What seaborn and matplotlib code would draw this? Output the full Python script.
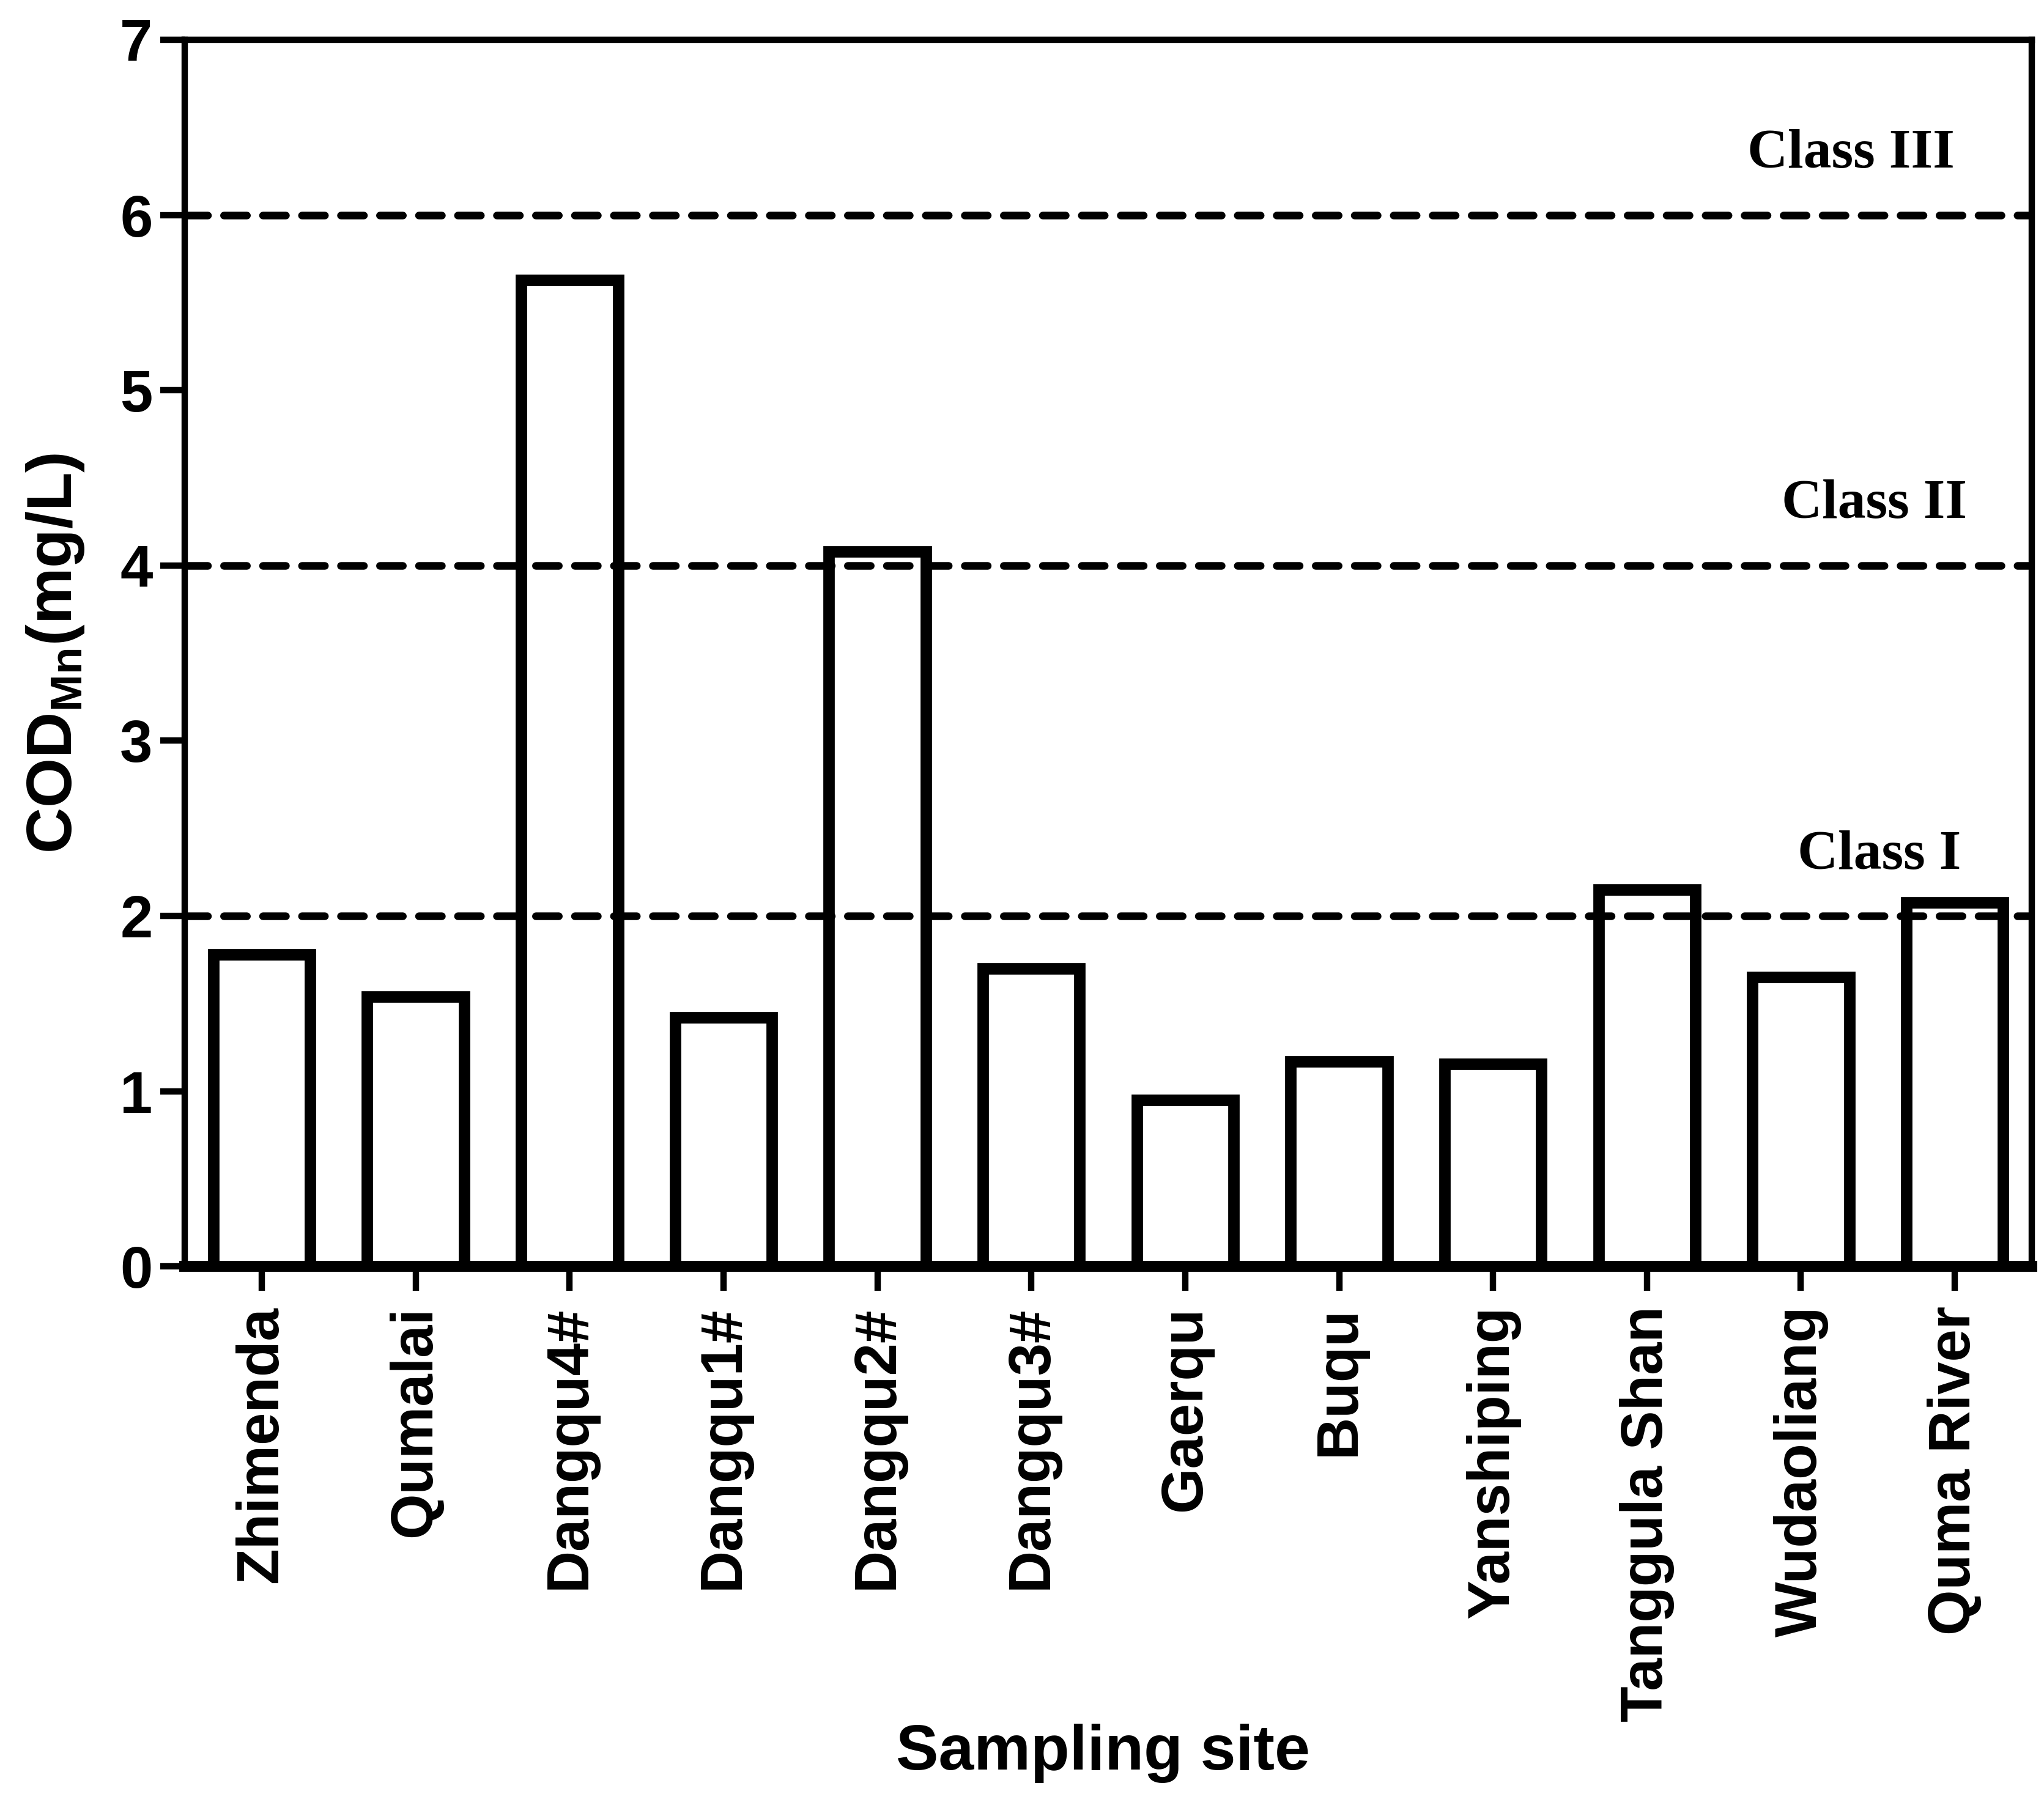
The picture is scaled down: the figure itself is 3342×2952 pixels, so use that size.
import matplotlib
matplotlib.use("Agg")
import matplotlib.pyplot as plt
import seaborn as sns

# data
sites = ["Zhimenda", "Qumalai", "Dangqu4#", "Dangqu1#", "Dangqu2#", "Dangqu3#",
         "Gaerqu", "Buqu", "Yanshiping", "Tanggula Shan", "Wudaoliang", "Quma River"]
cod_mn = [1.78, 1.54, 5.63, 1.42, 4.08, 1.70, 0.95, 1.17, 1.155, 2.15, 1.65, 2.075]

class_limits = [2, 4, 6]
class_names = ["Class I", "Class II", "Class III"]
class_label_x = [11.04, 11.08, 11.0]

sns.set_style("ticks")
plt.rcParams['font.family'] = ['Liberation Sans', 'DejaVu Sans']
plt.rcParams['font.weight'] = 'bold'
plt.rcParams['text.color'] = 'black'
plt.rcParams['axes.labelcolor'] = 'black'
plt.rcParams['mathtext.fontset'] = 'custom'
plt.rcParams['mathtext.rm'] = 'Liberation Sans:bold'
plt.rcParams['mathtext.bf'] = 'Liberation Sans:bold'

fig = plt.figure(figsize=(3342 / 300, 2952 / 300), dpi=300)
ax = fig.add_axes([0.0904, 0.2984, 0.9036, 0.6796])

sns.barplot(x=sites, y=cod_mn, color="white", edgecolor="black",
            linewidth=4.5, width=0.63, ax=ax, saturation=1)

# class limit lines + labels
for lim, name, lx in zip(class_limits, class_names, class_label_x):
    ax.axhline(lim, color="black", linewidth=3, linestyle=(0, (3, 2.1)),
               dash_capstyle="round", zorder=3)
    ax.text(lx, lim + 0.27, name, ha="right", va="baseline", color="black",
            family=["Liberation Serif", "DejaVu Serif"], fontweight="bold",
            fontsize=22)

ax.set_xlim(-0.5, 11.5)
ax.set_ylim(0, 7)
ax.set_yticks(range(0, 8))

for side in ["left", "right", "top", "bottom"]:
    ax.spines[side].set_linewidth(2.5)
    ax.spines[side].set_color("black")
ax.spines["bottom"].set_linewidth(4.3)

ax.tick_params(axis="both", direction="out", length=9.6, width=2.5,
               labelsize=23, colors="black")
ax.tick_params(axis="y", pad=3)
ax.tick_params(axis="x", pad=6, rotation=90)
for lab in ax.get_xticklabels() + ax.get_yticklabels():
    lab.set_fontweight("bold")

ax.set_xlabel("Sampling site", fontsize=25, fontweight="bold", color="black")
ax.set_ylabel(r"COD$_{\mathrm{Mn}}$(mg/L)", fontsize=25, fontweight="bold", color="black")
ax.xaxis.set_label_coords(0.497, -0.397)
ax.xaxis.label.set_va("center")
ax.yaxis.set_label_coords(-0.070, 0.50)
ax.yaxis.label.set_va("center")

fig.savefig("out.png", dpi=300, facecolor="white")
